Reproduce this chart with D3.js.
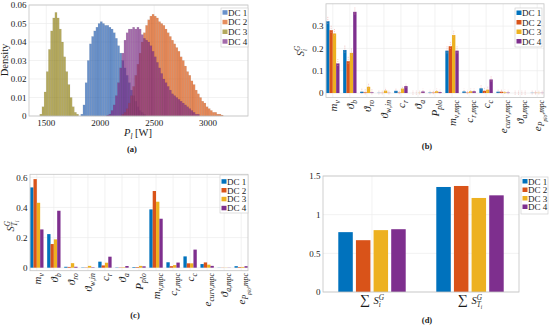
<!DOCTYPE html>
<html><head><meta charset="utf-8">
<script src="https://cdn.jsdelivr.net/npm/d3@7"></script>
<style>
body{margin:0;background:#fff}
svg{display:block}
text{font-family:"Liberation Serif","Times New Roman","DejaVu Serif",serif;fill:#1a1a1a}
</style></head>
<body><svg id="c" width="550" height="326" font-family="Liberation Serif, DejaVu Serif, serif"></svg>
<script>
// ---------------- DATA ----------------
const seriesNames = ["DC 1", "DC 2", "DC 3", "DC 4"];
const colors = ["#0072BD", "#D95319", "#EDB120", "#7E2F8E"];

// (a) histogram densities, 20 W bins
const binWidth = 20;
const histStarts = [1820, 2200, 1440, 2060];
const dc1Density = [0.001,0.006,0.018,0.030,0.039,0.043,0.046,0.048,0.050,0.051,0.050,0.049,0.049,0.048,0.047,0.045,0.042,0.038,0.034,0.030,0.026,0.022,0.018,0.014,0.011,0.008,0.005,0.003,0.002,0.001];
const dc2Density = [0.001,0.002,0.004,0.007,0.011,0.016,0.022,0.028,0.034,0.040,0.045,0.049,0.052,0.054,0.055,0.054,0.053,0.051,0.050,0.049,0.047,0.045,0.043,0.041,0.039,0.037,0.035,0.032,0.030,0.027,0.024,0.022,0.019,0.017,0.014,0.012,0.010,0.008,0.007,0.005,0.004,0.003,0.002,0.002,0.001,0.001,0.0005];
const dc3Density = [0.001,0.005,0.013,0.024,0.036,0.046,0.053,0.056,0.053,0.047,0.040,0.032,0.024,0.017,0.010,0.005,0.002,0.001];
const dc4Density = [0.0005,0.001,0.003,0.006,0.011,0.018,0.026,0.034,0.041,0.045,0.047,0.047,0.048,0.047,0.048,0.047,0.044,0.042,0.041,0.040,0.038,0.035,0.032,0.029,0.026,0.023,0.020,0.018,0.016,0.014,0.012,0.011,0.010,0.009,0.008,0.007,0.006,0.005,0.004,0.003,0.002,0.001,0.001];
const histXTicks = [1500, 2000, 2500, 3000];
const histYTicks = [0, 0.01, 0.02, 0.03, 0.04, 0.05, 0.06];

// (b),(c) categories
const categories = ["m_{v}","\u03d1_{b}","\u03d1_{ro}","\u03d1_{w,in}","c_{r}","\u03d1_{a}","P_{plo}","m_{v,mpc}","c_{r,mpc}","c_{c}","e_{curv,mpc}","\u03d1_{a,mpc}","e_{P_{plo},mpc}"];
const firstDC1 = [0.322,0.193,0.006,0.001,0.010,0.000,0.002,0.190,0.007,0.021,0.006,0.000,0.001];
const firstDC2 = [0.282,0.143,0.003,0.001,0.002,0.000,0.002,0.210,0.002,0.010,0.006,0.000,0.001];
const firstDC3 = [0.267,0.180,0.028,0.011,0.020,0.001,0.008,0.260,0.008,0.015,0.003,0.000,0.001];
const firstDC4 = [0.133,0.364,0.003,0.001,0.031,0.007,0.004,0.190,0.008,0.061,0.002,0.000,0.001];
const firstCI  = [0.020,0.020,0.015,0.012,0.012,0.012,0.012,0.020,0.012,0.015,0.012,0.012,0.012];
const firstYTicks = [0, 0.1, 0.2, 0.3];

const totalDC1 = [0.533,0.223,0.006,0.002,0.040,0.002,0.004,0.387,0.036,0.075,0.024,0.001,0.010];
const totalDC2 = [0.588,0.157,0.005,0.002,0.015,0.002,0.004,0.509,0.010,0.029,0.035,0.001,0.004];
const totalDC3 = [0.431,0.188,0.030,0.012,0.033,0.003,0.012,0.438,0.017,0.029,0.020,0.001,0.005];
const totalDC4 = [0.254,0.378,0.006,0.003,0.073,0.011,0.009,0.325,0.034,0.120,0.012,0.001,0.010];
const totalYTicks = [0, 0.2, 0.4, 0.6];

// (d) sums
const sumGroups = ["\u2211 S_{i}^{G}", "\u2211 S_{T_{i}}^{G}"];
const sumFirst = [0.774, 0.670, 0.800, 0.812];
const sumTotal = [1.358, 1.371, 1.216, 1.250];
const sumYTicks = [0, 0.5, 1, 1.5];

// ---------------- HELPERS ----------------
const svg = d3.select("#c");
const frameColor = "#c4c4c4", gridColor = "#ececec";

function parseGroup(s, i) {
  if (s[i] === "{") {
    let d = 1, j = i + 1;
    while (d > 0) { if (s[j] === "{") d++; else if (s[j] === "}") d--; j++; }
    return [s.slice(i + 1, j - 1), j];
  }
  return [s[i], i + 1];
}
function emit(el, txt, size, off, st) {
  const parts = txt.match(/[A-Za-z\u03d1]+|[^A-Za-z\u03d1]+/g) || [];
  parts.forEach(p => {
    const big = p.includes("\u2211");
    const italic = /[A-Za-z\u03d1]/.test(p) && !st.upright;
    const t = el.append("tspan")
      .attr("font-size", big ? size * 1.35 : size)
      .attr("font-style", italic ? "italic" : "normal")
      .attr("dy", off - st.cur).text(p);
    if (st.dx != null) { t.attr("dx", st.dx); st.dx = null; }
    st.cur = off;
  });
}
function renderRun(el, s, size, base, st) {
  let i = 0, buf = "";
  while (i < s.length) {
    const ch = s[i];
    if (ch === "_" || ch === "^") {
      if (buf) { emit(el, buf, size, base, st); buf = ""; }
      const [g1, j] = parseGroup(s, i + 1);
      if (s[j] === "_" || s[j] === "^") {
        const [g2, k] = parseGroup(s, j + 1);
        const supG = ch === "^" ? g1 : g2, subG = ch === "^" ? g2 : g1;
        const n0 = el.node().getComputedTextLength();
        renderRun(el, supG, size * 0.7, base - size * 0.42, st);
        const w = el.node().getComputedTextLength() - n0;
        st.dx = -w;
        renderRun(el, subG, size * 0.7, base + size * 0.3, st);
        i = k;
      } else {
        renderRun(el, g1, size * 0.7, ch === "^" ? base - size * 0.42 : base + size * 0.3, st);
        i = j;
      }
    } else { buf += ch; i++; }
  }
  if (buf) emit(el, buf, size, base, st);
}
function mathText(el, s, size, st) { st = st || { cur: 0, dx: null }; renderRun(el, s, size, 0, st); return st; }

function frame(g, x, y) {
  const [x0, x1] = x.range(), [y1, y0] = y.range();
  g.append("rect").attr("x", x0).attr("y", y0).attr("width", x1 - x0).attr("height", y1 - y0)
    .attr("fill", "none").attr("stroke", frameColor).attr("stroke-width", 0.8);
}
function yAxis(g, y, ticks, x0, x1, fmt) {
  g.selectAll(null).data(ticks).join("line")
    .attr("x1", x0).attr("x2", x1).attr("y1", d => y(d)).attr("y2", d => y(d))
    .attr("stroke", gridColor).attr("stroke-width", 0.7);
  g.selectAll(null).data(ticks).join("text")
    .attr("x", x0 - 2.5).attr("y", d => y(d) + 3.2).attr("text-anchor", "end")
    .attr("font-size", 9).text(d => fmt(d));
}
function legend(g, x0, y0, x1, y1, rowYs, fillFn, opac) {
  g.append("rect").attr("x", x0).attr("y", y0).attr("width", x1 - x0).attr("height", y1 - y0)
    .attr("fill", "#fff").attr("stroke", "#d0d0d0").attr("stroke-width", 0.7);
  seriesNames.forEach((n, i) => {
    g.append("rect").attr("x", x0 + 1.5).attr("y", rowYs[i] - 2.5).attr("width", 5).attr("height", 4.5)
      .attr("fill", fillFn(i)).attr("fill-opacity", opac);
    g.append("text").attr("x", x0 + 7).attr("y", rowYs[i] + 3).attr("font-size", 9).text(n);
  });
}
const fmtNum = d => d === 0 ? "0" : String(d);

// ---------------- (a) HISTOGRAM ----------------
{
  const g = svg.append("g");
  const x = d3.scaleLinear().domain([1340, 3370]).range([29, 248]);
  const y = d3.scaleLinear().domain([0, 0.06]).range([116, 5]);
  yAxis(g, y, histYTicks, 29, 248, fmtNum);
  g.selectAll(null).data(histXTicks).join("line")
    .attr("x1", d => x(d)).attr("x2", d => x(d)).attr("y1", 5).attr("y2", 116)
    .attr("stroke", gridColor).attr("stroke-width", 0.7);
  g.selectAll(null).data(histXTicks).join("text")
    .attr("x", d => x(d)).attr("y", 126).attr("text-anchor", "middle").attr("font-size", 9).text(d => d);
  const dens = [dc1Density, dc2Density, dc3Density, dc4Density];
  const histFill = ["#2a62b4", "#dc5c18", "#948418", "#7e2c88"];
  const histOp = [0.7, 0.72, 0.7, 0.7];
  dens.forEach((arr, s) => {
    g.append("g").selectAll("rect").data(arr).join("rect")
      .attr("x", (d, i) => x(histStarts[s] + i * binWidth))
      .attr("width", x(binWidth) - x(0))
      .attr("y", d => y(d)).attr("height", d => y(0) - y(d))
      .attr("fill", histFill[s]).attr("fill-opacity", histOp[s])
      .attr("stroke", "#222").attr("stroke-opacity", 0.12).attr("stroke-width", 0.4);
  });
  frame(g, x, y);
  legend(g, 221, 8, 248, 47, [12.7, 22.3, 32, 41.7], i => histFill[i], 0.7);
  const lbl = g.append("text").attr("x", 138).attr("y", 136).attr("text-anchor", "middle").attr("font-size", 10.5);
  const st = mathText(lbl, "P_{l}", 10.5);
  st.upright = true;
  renderRun(lbl, " [W]", 10.5, 0, st);
  g.append("text").attr("transform", "translate(8,60) rotate(-90)").attr("text-anchor", "middle")
    .attr("font-size", 10.5).text("Density");
  g.append("text").attr("x", 132).attr("y", 152).attr("text-anchor", "middle").attr("font-size", 8.5)
    .attr("font-weight", "bold").text("(a)");
}

// ---------------- (b),(c) GROUPED BARS ----------------
function groupedPanel(opts) {
  const g = svg.append("g");
  const x = d3.scaleLinear().domain([0.6, 13.4]).range([opts.x0, opts.x1]);
  const y = d3.scaleLinear().domain(opts.yDom).range([opts.yb, opts.yt]);
  yAxis(g, y, opts.ticks, opts.x0, opts.x1, fmtNum);
  const idx = d3.range(categories.length);
  g.selectAll(null).data(idx).join("line")
    .attr("x1", i => x(i + 1)).attr("x2", i => x(i + 1)).attr("y1", opts.yt).attr("y2", opts.yb)
    .attr("stroke", gridColor).attr("stroke-width", 0.7);
  const bw = 0.196, offs = [-1.5, -0.5, 0.5, 1.5];
  opts.series.forEach((vals, s) => {
    g.append("g").selectAll("rect").data(vals).join("rect")
      .attr("x", (d, i) => x(i + 1 + offs[s] * bw - bw / 2))
      .attr("width", x(bw) - x(0))
      .attr("y", d => y(d)).attr("height", d => y(0) - y(d))
      .attr("fill", colors[s]);
  });
  if (opts.ci) {
    opts.series.forEach((vals, s) => {
      g.append("g").selectAll("line").data(vals).join("line")
        .attr("x1", (d, i) => x(i + 1 + offs[s] * bw)).attr("x2", (d, i) => x(i + 1 + offs[s] * bw))
        .attr("y1", (d, i) => y(d - opts.ci[i] * 0.6)).attr("y2", (d, i) => y(d + opts.ci[i]))
        .attr("stroke", "#e8a0a0").attr("stroke-width", 0.6).attr("stroke-dasharray", "1,1");
    });
  }
  frame(g, x, y);
  categories.forEach((c, i) => {
    const t = g.append("text").attr("transform", `translate(${x(i + 1) + 3.8},${opts.yb + 2.5}) rotate(-90)`)
      .attr("text-anchor", "end").attr("font-size", 11);
    mathText(t, c, 11);
  });
  legend(g, opts.leg[0], opts.leg[1], opts.leg[2], opts.leg[3], opts.legRows, i => colors[i], 1);
  const yl = g.append("text").attr("transform", `translate(${opts.ylab[0]},${opts.ylab[1]}) rotate(-90)`)
    .attr("text-anchor", "middle").attr("font-size", 10.5);
  mathText(yl, opts.ylabel, 10.5);
  g.append("text").attr("x", opts.cap[0]).attr("y", opts.cap[1]).attr("text-anchor", "middle")
    .attr("font-size", 8.5).attr("font-weight", "bold").text(opts.capText);
}
groupedPanel({
  x0: 326, x1: 544, yDom: [-0.02, 0.4], yb: 97.5, yt: 3.8, ticks: firstYTicks,
  series: [firstDC1, firstDC2, firstDC3, firstDC4], ci: firstCI,
  leg: [515, 8, 542, 47], legRows: [13, 22.5, 32, 41.5],
  ylab: [304, 51], ylabel: "S_{i}^{G}", cap: [427, 149], capText: "(b)"
});
groupedPanel({
  x0: 30, x1: 248, yDom: [-0.02, 0.62], yb: 270.7, yt: 174.3, ticks: totalYTicks,
  series: [totalDC1, totalDC2, totalDC3, totalDC4], ci: null,
  leg: [220, 175, 248, 213], legRows: [181.7, 190.5, 199.3, 208.3],
  ylab: [14, 226], ylabel: "S_{T_{i}}^{G}", cap: [135, 318], capText: "(c)"
});

// ---------------- (d) SUMS ----------------
{
  const g = svg.append("g");
  const x = d3.scaleLinear().domain([0.5, 2.5]).range([323, 519]);
  const y = d3.scaleLinear().domain([0, 1.5]).range([292, 176]);
  yAxis(g, y, sumYTicks, 323, 519, fmtNum);
  g.selectAll(null).data([1, 2]).join("line")
    .attr("x1", d => x(d)).attr("x2", d => x(d)).attr("y1", 176).attr("y2", 292)
    .attr("stroke", gridColor).attr("stroke-width", 0.7);
  const offs = [-0.27, -0.09, 0.09, 0.27], bw = 0.148;
  [sumFirst, sumTotal].forEach((vals, gi) => {
    vals.forEach((v, s) => {
      g.append("rect").attr("x", x(gi + 1 + offs[s] - bw / 2)).attr("width", x(bw) - x(0))
        .attr("y", y(v)).attr("height", y(0) - y(v)).attr("fill", colors[s]);
    });
  });
  frame(g, x, y);
  sumGroups.forEach((s, i) => {
    const t = g.append("text").attr("x", x(i + 1)).attr("y", 304).attr("text-anchor", "middle").attr("font-size", 10.5);
    mathText(t, s, 10.5);
  });
  legend(g, 521, 177, 548, 214, [181.5, 190, 198.5, 207], i => colors[i], 1);
  g.append("text").attr("x", 427).attr("y", 323).attr("text-anchor", "middle")
    .attr("font-size", 8.5).attr("font-weight", "bold").text("(d)");
}
</script></body></html>
